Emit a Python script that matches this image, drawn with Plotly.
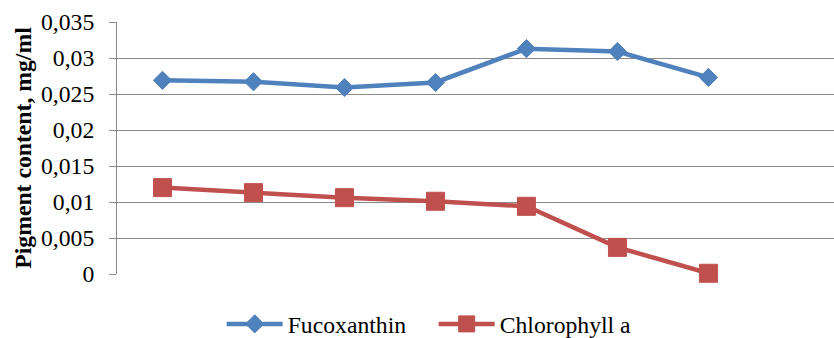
import plotly.graph_objects as go

# Sampling points (seven measurements, no category labels on the axis)
sample_index = [0, 1, 2, 3, 4, 5, 6]

# Pigment content, mg/ml
fucoxanthin = [0.0269, 0.0267, 0.0259, 0.0266, 0.0313, 0.0309, 0.0273]
chlorophyll_a = [0.0120, 0.0113, 0.0106, 0.0101, 0.0094, 0.0037, 0.0001]

y_ticks = [0, 0.005, 0.01, 0.015, 0.02, 0.025, 0.03, 0.035]

BLUE = "#4F81BD"
RED = "#C0504D"
GRID = "#898989"
FONT = "Liberation Serif"
FS = 23.7

fig = go.Figure()
fig.add_trace(go.Scatter(
    x=sample_index, y=fucoxanthin, name="Fucoxanthin",
    mode="lines+markers",
    line=dict(color=BLUE, width=4.5),
    marker=dict(symbol="diamond", size=14, color=BLUE,
                line=dict(color=BLUE, width=1)),
    cliponaxis=False,
))
fig.add_trace(go.Scatter(
    x=sample_index, y=chlorophyll_a, name="Chlorophyll a",
    mode="lines+markers",
    line=dict(color=RED, width=4.5),
    marker=dict(symbol="square", size=18, color=RED,
                line=dict(color=RED, width=1)),
    cliponaxis=False,
))

fig.update_layout(
    width=834, height=338,
    margin=dict(l=117, r=0, t=22, b=64, autoexpand=False),
    paper_bgcolor="white", plot_bgcolor="white",
    separators=", ",
    font=dict(family=FONT, size=FS, color="black"),
    showlegend=True,
    legend=dict(
        orientation="h", x=0.146, xanchor="left", y=-0.111, yanchor="top",
        font=dict(family=FONT, size=FS, color="black"),
        itemwidth=56, tracegroupgap=0, entrywidth=141,
        bgcolor="rgba(0,0,0,0)",
    ),
    xaxis=dict(
        range=[-0.5, 7.38], showticklabels=False, ticks="",
        showgrid=False, zeroline=False, showline=False,
        fixedrange=True,
    ),
    yaxis=dict(
        range=[0, 0.035], tickvals=y_ticks, tickformat=".3~f",
        showgrid=True, gridcolor=GRID, gridwidth=1,
        zeroline=False,
        showline=True, linecolor=GRID, linewidth=1,
        ticks="outside", ticklen=7, tickcolor=GRID,
        ticklabelstandoff=10,
        tickfont=dict(family=FONT, size=FS, color="black"),
        title=dict(text="<b>Pigment content, mg/ml</b>",
                   font=dict(family=FONT, size=FS, color="black"),
                   standoff=2),
        fixedrange=True,
    ),
)

fig.write_html("out.html")
